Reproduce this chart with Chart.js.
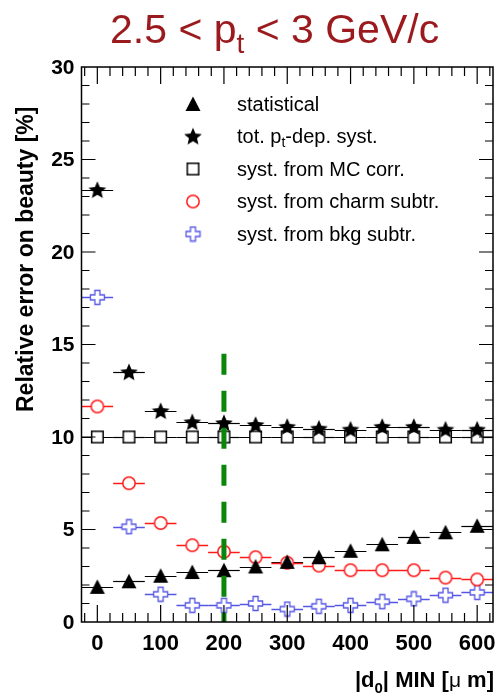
<!DOCTYPE html>
<html>
<head>
<meta charset="utf-8">
<script src="https://cdn.jsdelivr.net/npm/chart.js@4.4.1/dist/chart.umd.min.js"></script>
<style>
  html, body { margin: 0; padding: 0; background: #fff; overflow: hidden; }
  canvas { display: block; }
</style>
</head>
<body>
<canvas id="chart" width="503" height="698"></canvas>
<script>
// Data, x = |d0| MIN in um, bin half width 25
const d0Min     = [0, 50, 100, 150, 200, 250, 300, 350, 400, 450, 500, 550, 600];
const statErr   = [1.9, 2.2, 2.5, 2.7, 2.8, 3.0, 3.25, 3.5, 3.85, 4.2, 4.6, 4.85, 5.2];
const totSyst   = [23.35, 13.5, 11.4, 10.8, 10.75, 10.65, 10.55, 10.45, 10.4, 10.55, 10.55, 10.4, 10.4];
const mcSyst    = [10, 10, 10, 10, 10, 10, 10, 10, 10, 10, 10, 10, 10];
const charmSyst = [11.65, 7.5, 5.35, 4.15, 3.8, 3.5, 3.2, 3.05, 2.8, 2.8, 2.8, 2.4, 2.3];
const bkgSyst   = [17.55, 5.15, 1.5, 0.9, 0.9, 1.0, 0.7, 0.85, 0.9, 1.1, 1.25, 1.45, 1.6];
const binHalf   = 25;

// cut line at 200 um
const cutX = [200, 200];
const cutY = [14.5, 0];

// axes
const xTicks = [0, 100, 200, 300, 400, 500, 600];
const yTicks = [0, 5, 10, 15, 20, 25, 30];

const legendLabels = ["statistical", "tot. p|t|-dep. syst.", "syst. from MC corr.", "syst. from charm subtr.", "syst. from bkg subtr."];

const FONT = '"Liberation Sans", Arial, Helvetica, sans-serif';
const RED = "#ff1a1a";
const BLUE = "#5656e6";

// ---- marker canvases ----
function mk(w, h, fn) {
  const c = document.createElement("canvas");
  c.width = w; c.height = h;
  fn(c.getContext("2d"));
  return c;
}
const triMark = mk(18, 18, g => {
  g.fillStyle = "#000";
  g.beginPath(); g.moveTo(9, 1.5); g.lineTo(16.5, 16); g.lineTo(1.5, 16); g.closePath(); g.fill();
});
const starMark = mk(20, 20, g => {
  g.fillStyle = "#000";
  g.beginPath();
  for (let i = 0; i < 10; i++) {
    const r = i % 2 ? 4.2 : 9.3;
    const a = -Math.PI / 2 + i * Math.PI / 5;
    const px = 10 + r * Math.cos(a), py = 10.5 + r * Math.sin(a);
    i ? g.lineTo(px, py) : g.moveTo(px, py);
  }
  g.closePath(); g.fill();
});
const sqMark = mk(15, 15, g => {
  g.fillStyle = "#fff"; g.strokeStyle = "#000"; g.lineWidth = 1.5;
  g.fillRect(1.75, 1.75, 11.5, 11.5); g.strokeRect(1.75, 1.75, 11.5, 11.5);
});
const circMark = mk(16, 16, g => {
  g.fillStyle = "#fff"; g.strokeStyle = RED; g.lineWidth = 1.5;
  g.beginPath(); g.arc(8, 8, 6.2, 0, Math.PI * 2); g.fill(); g.stroke();
});
const crossMark = mk(17, 17, g => {
  g.fillStyle = "#fff"; g.strokeStyle = BLUE; g.lineWidth = 1.3;
  const a = 1.5, b = 6, c = 11, d = 15.5;
  g.beginPath();
  g.moveTo(b, a); g.lineTo(c, a); g.lineTo(c, b); g.lineTo(d, b); g.lineTo(d, c);
  g.lineTo(c, c); g.lineTo(c, d); g.lineTo(b, d); g.lineTo(b, c); g.lineTo(a, c);
  g.lineTo(a, b); g.lineTo(b, b); g.closePath();
  g.fill(); g.stroke();
});

function pts(ys) { return d0Min.map((x, i) => ({ x, y: ys[i] })); }

const series = [
  { data: statErr,   mark: triMark,   color: "#000", lw: 1.2 },
  { data: totSyst,   mark: starMark,  color: "#000", lw: 1.2 },
  { data: mcSyst,    mark: sqMark,    color: "#000", lw: 1.2 },
  { data: charmSyst, mark: circMark,  color: RED,    lw: 1.5 },
  { data: bkgSyst,   mark: crossMark, color: BLUE,   lw: 1.5 }
];

// ---- frame, ticks, labels, legend, horizontal bin bars ----
const decor = {
  id: "decor",
  beforeDatasetsDraw(chart) {
    const { ctx, scales: { x, y } } = chart;
    ctx.save();
    series.forEach(s => {
      ctx.strokeStyle = s.color; ctx.lineWidth = s.lw;
      s.data.forEach((v, i) => {
        const py = Math.round(y.getPixelForValue(v)) + 0.5;
        ctx.beginPath();
        ctx.moveTo(x.getPixelForValue(d0Min[i] - binHalf), py);
        ctx.lineTo(x.getPixelForValue(d0Min[i] + binHalf), py);
        ctx.stroke();
      });
    });
    ctx.restore();
  },
  afterDraw(chart) {
    const { ctx, chartArea: a, scales: { x, y } } = chart;
    ctx.save();
    // frame
    ctx.strokeStyle = "#000"; ctx.lineWidth = 1.5;
    ctx.strokeRect(a.left, a.top, a.right - a.left, a.bottom - a.top);
    ctx.lineWidth = 1.2;
    ctx.beginPath();
    for (let v = -20; v <= 620; v += 20) {
      const px = x.getPixelForValue(v);
      const len = v % 100 === 0 ? 17 : 9;
      ctx.moveTo(px, a.bottom); ctx.lineTo(px, a.bottom - len);
      ctx.moveTo(px, a.top); ctx.lineTo(px, a.top + len);
    }
    for (let v = 1; v < 30; v++) {
      const py = y.getPixelForValue(v);
      const len = v % 5 === 0 ? 14 : 8;
      ctx.moveTo(a.left, py); ctx.lineTo(a.left + len, py);
      ctx.moveTo(a.right, py); ctx.lineTo(a.right - len, py);
    }
    ctx.stroke();

    // tick labels
    ctx.fillStyle = "#000";
    ctx.font = "bold 22px " + FONT;
    ctx.textAlign = "center"; ctx.textBaseline = "top";
    xTicks.forEach(v => ctx.fillText(String(v), x.getPixelForValue(v), a.bottom + 11));
    ctx.font = "bold 21px " + FONT;
    ctx.textAlign = "right"; ctx.textBaseline = "middle";
    yTicks.forEach(v => ctx.fillText(String(v), a.left - 7, y.getPixelForValue(v) + 1));

    // x title: |d0| MIN [μ m]
    ctx.textBaseline = "alphabetic"; ctx.textAlign = "left";
    const xt = [["|d", "bold 22px "], ["0", "bold 15px ", 6], ["| MIN [", "bold 22px "], ["\u03bc", "21px "], [" m]", "bold 22px "]];
    let tw = 0;
    xt.forEach(p => { ctx.font = p[1] + FONT; tw += ctx.measureText(p[0]).width; });
    let tx = a.right + 1 - tw;
    xt.forEach(p => {
      ctx.font = p[1] + FONT;
      ctx.fillText(p[0], tx, 687 + (p[2] || 0));
      tx += ctx.measureText(p[0]).width;
    });

    // y title
    ctx.save();
    ctx.translate(33, 412); ctx.rotate(-Math.PI / 2);
    ctx.font = "bold 23px " + FONT;
    ctx.textAlign = "left";
    ctx.fillText("Relative error on beauty [%]", 0, 0);
    ctx.restore();

    // title
    ctx.fillStyle = "#9b1a1e";
    const tp = [["2.5 < p", "41px ", 0], ["t", "28px ", 10], [" < 3 GeV/c", "41px ", 0]];
    let ttx = 110;
    tp.forEach(p => {
      ctx.font = p[1] + FONT;
      ctx.fillText(p[0], ttx, 43 + p[2]);
      ttx += ctx.measureText(p[0]).width;
    });

    // legend
    ctx.fillStyle = "#000";
    const rows = [104, 136.5, 169, 201.5, 234];
    series.forEach((s, i) => {
      const m = s.mark;
      ctx.drawImage(m, 193 - m.width / 2, rows[i] - m.height / 2);
      const parts = legendLabels[i].split("|");
      let lx = 237;
      parts.forEach((t, k) => {
        const sub = k === 1;
        ctx.font = (sub ? "14px " : "20px ") + FONT;
        ctx.textBaseline = "middle";
        ctx.fillText(t, lx, rows[i] + (sub ? 7 : 1));
        lx += ctx.measureText(t).width;
      });
    });
    ctx.restore();
  }
};

const datasets = [
  {
    data: cutX.map((v, i) => ({ x: v, y: cutY[i] })),
    showLine: true, borderColor: "#0a870a", borderWidth: 5,
    borderDash: [21, 16], pointRadius: 0, order: 0
  }
].concat(series.map(s => ({
  data: pts(s.data),
  pointStyle: s.mark, pointRadius: 9, showLine: false, order: 1
})));

new Chart(document.getElementById("chart"), {
  type: "scatter",
  data: { datasets },
  options: {
    responsive: false,
    devicePixelRatio: 1,
    animation: false,
    layout: { padding: { left: 81.5, top: 67, right: 4, bottom: 76 } },
    plugins: { legend: { display: false }, tooltip: { enabled: false } },
    scales: {
      x: { type: "linear", min: -25, max: 625, display: false },
      y: { type: "linear", min: 0, max: 30, display: false }
    }
  },
  plugins: [decor]
});
</script>
</body>
</html>
